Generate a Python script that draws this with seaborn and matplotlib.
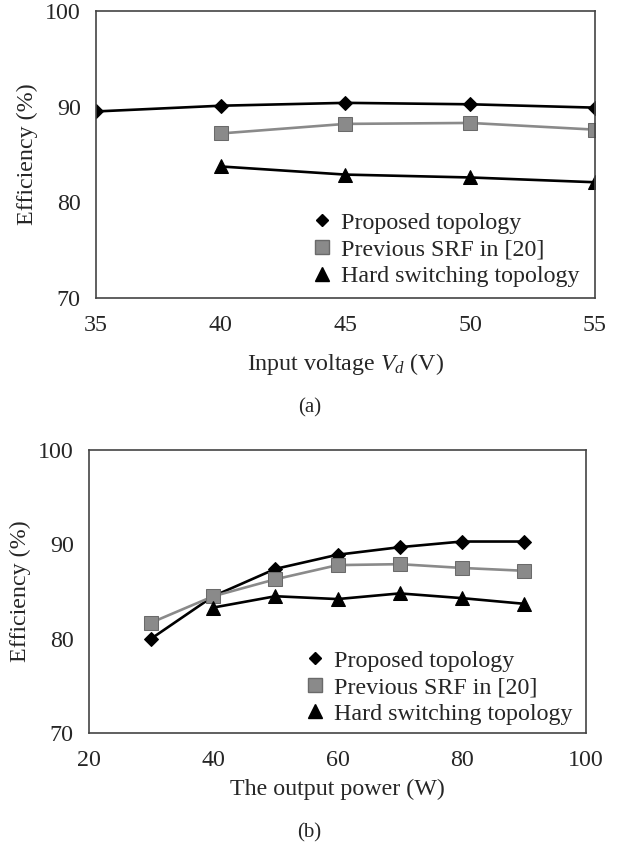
import pandas as pd
import matplotlib
matplotlib.use('Agg')
import matplotlib.pyplot as plt
from matplotlib.lines import Line2D
import seaborn as sns

# dados (a): eficiência x tensão de entrada
tensao = [35, 40, 45, 50, 55]
proposta_a = [89.5, 90.1, 90.4, 90.25, 89.9]
tensao_srf = [40, 45, 50, 55]
srf_a = [87.2, 88.2, 88.3, 87.6]
hard_a = [83.75, 82.9, 82.6, 82.1]

# dados do gráfico (b): eficiência x potência de saída
potencia = [30, 40, 50, 60, 70, 80, 90]
proposta_b = [80.0, 84.5, 87.4, 88.9, 89.7, 90.3, 90.3]
srf_b = [81.7, 84.5, 86.3, 87.8, 87.9, 87.5, 87.2]
potencia_hard = [40, 50, 60, 70, 80, 90]
hard_b = [83.3, 84.5, 84.2, 84.8, 84.3, 83.7]

nomes = ['Proposed topology', 'Previous SRF in [20]', 'Hard switching topology']

sns.set_theme(style='white')
plt.rcParams['font.family'] = ['Liberation Serif', 'DejaVu Serif']
plt.rcParams['mathtext.fontset'] = 'custom'
plt.rcParams['mathtext.rm'] = 'Liberation Serif'
plt.rcParams['mathtext.it'] = 'Liberation Serif:italic'

cinza = '#8a8a8a'
estilo = {
    nomes[0]: dict(color='black', marker='D', markersize=7, mfc='black', mec='black'),
    nomes[1]: dict(color=cinza, marker='s', markersize=10.5, mfc=cinza, mec='#6a6a6a'),
    nomes[2]: dict(color='black', marker='^', markersize=10.5, mfc='black', mec='black'),
}
fonte = 17.3


def desenhar(ax, series, xlim, xticks, xminor, xlabel, leg_pos):
    for nome, x, y in series:
        df = pd.DataFrame({'x': x, 'y': y})
        e = estilo[nome]
        sns.lineplot(data=df, x='x', y='y', ax=ax, color=e['color'], marker=e['marker'],
                     markersize=e['markersize'], markerfacecolor=e['mfc'],
                     markeredgecolor=e['mec'], linewidth=1.9, legend=False)
    ax.set_xlim(*xlim)
    ax.set_ylim(70, 100)
    ax.set_xticks(xticks)
    ax.set_xticks(xminor, minor=True)
    ax.set_yticks([70, 80, 90, 100])
    ax.set_yticks(range(70, 101, 2), minor=True)
    ax.tick_params(which='both', direction='in', labelsize=fonte, length=4, width=0.8,
                   color='#555555')
    ax.tick_params(axis='x', pad=12)
    ax.tick_params(axis='y', pad=11)
    for s in ax.spines.values():
        s.set_color('#444444')
        s.set_linewidth(1.2)
    ax.set_xlabel(xlabel, fontsize=fonte)
    ax.set_ylabel('Efficiency (%)', fontsize=fonte, labelpad=5)
    handles = [Line2D([], [], linestyle='none', marker=estilo[n]['marker'],
                      markersize=estilo[n]['markersize'] * 0.9,
                      markerfacecolor=estilo[n]['mfc'], markeredgecolor=estilo[n]['mec'])
               for n in nomes]
    ax.legend(handles, nomes, loc='lower left', bbox_to_anchor=leg_pos, frameon=False,
              fontsize=fonte, handlelength=0.7, handletextpad=0.45, labelspacing=0.2,
              borderaxespad=0)


fig = plt.figure(figsize=(6.19, 8.48), dpi=100)
ax1 = fig.add_axes([0.155, 0.6486, 0.806, 0.3384])
ax2 = fig.add_axes([0.1438, 0.1356, 0.803, 0.3337])

desenhar(ax1,
         [(nomes[0], tensao, proposta_a), (nomes[1], tensao_srf, srf_a), (nomes[2], tensao_srf, hard_a)],
         (35, 55), [35, 40, 45, 50, 55], [], 'Input voltage $V_d$ (V)', (0.416, 0.005))
desenhar(ax2,
         [(nomes[0], potencia, proposta_b), (nomes[1], potencia, srf_b), (nomes[2], potencia_hard, hard_b)],
         (20, 100), [20, 40, 60, 80, 100], [30, 50, 70, 90], 'The output power (W)', (0.418, -0.005))
ax1.xaxis.labelpad = 11
ax2.xaxis.labelpad = 6

fig.text(0.50, 0.519, '(a)', ha='center', va='center', fontsize=15)
fig.text(0.50, 0.0177, '(b)', ha='center', va='center', fontsize=15)

fig.savefig('out.png', dpi=100, facecolor='white')
